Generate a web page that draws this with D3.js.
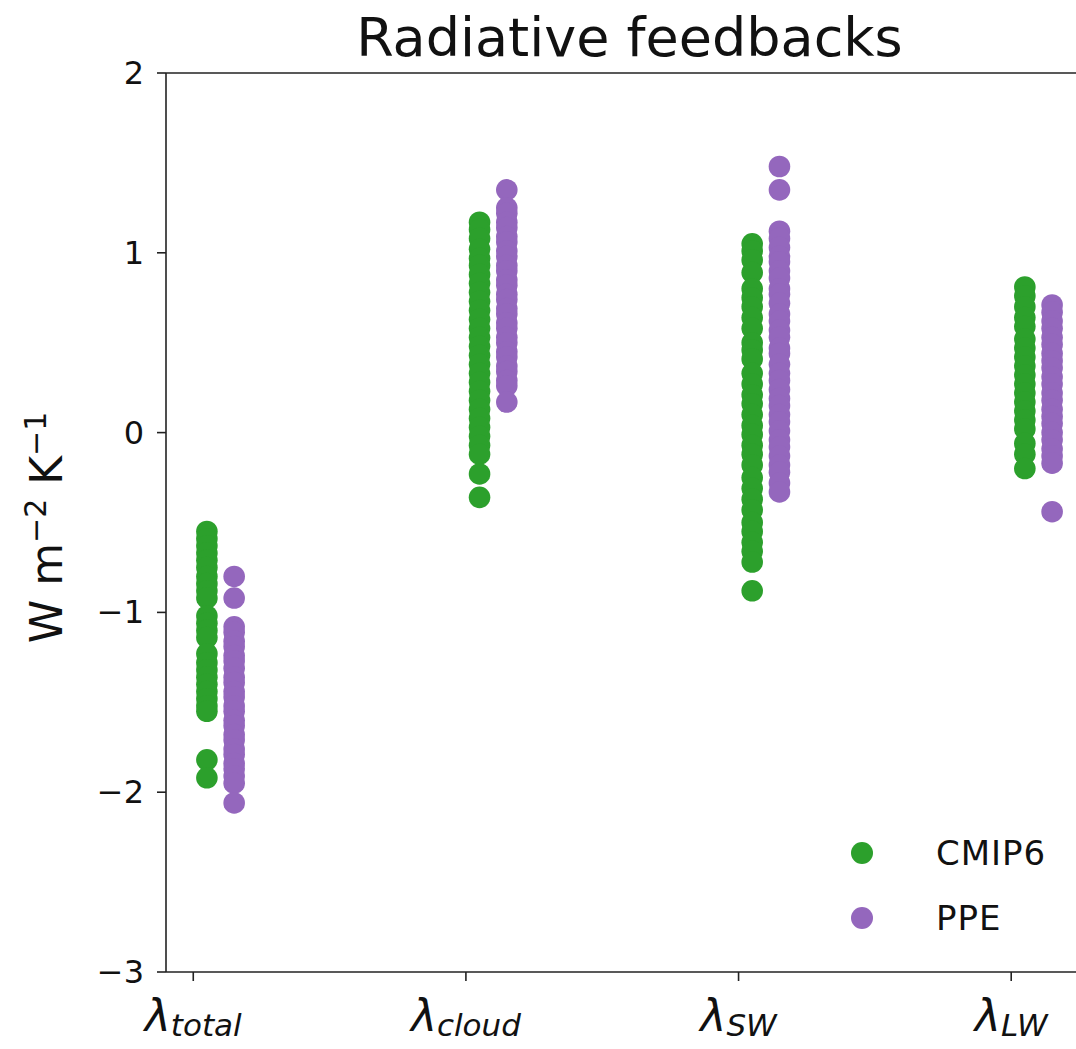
<!DOCTYPE html>
<html><head><meta charset="utf-8">
<script src="https://cdn.jsdelivr.net/npm/d3@7"></script>
<style>
html,body{margin:0;padding:0;background:#fff;}
text{font-family:"DejaVu Sans",sans-serif;fill:#111;}
</style></head>
<body>
<svg id="c" width="1076" height="1049"></svg>
<script>
const categories = ["total", "cloud", "SW", "LW"];
const seriesNames = ["CMIP6", "PPE"];
const yTicks = [2, 1, 0, -1, -2, -3];

const cmip6Total = [-0.55,-0.59,-0.63,-0.67,-0.71,-0.75,-0.80,-0.84,-0.88,-0.92,-1.02,-1.06,-1.10,-1.14,-1.23,-1.28,-1.32,-1.36,-1.40,-1.44,-1.48,-1.52,-1.55,-1.82,-1.92];
const ppeTotal = [-0.80,-0.92,-1.08,-1.11,-1.16,-1.19,-1.24,-1.27,-1.31,-1.36,-1.39,-1.44,-1.47,-1.52,-1.55,-1.60,-1.63,-1.68,-1.71,-1.76,-1.79,-1.84,-1.87,-1.91,-1.95,-2.06];
const cmip6Cloud = [1.17,1.13,1.08,1.02,0.97,0.93,0.88,0.83,0.78,0.73,0.68,0.63,0.58,0.53,0.48,0.43,0.38,0.33,0.28,0.23,0.18,0.13,0.08,0.03,-0.02,-0.07,-0.12,-0.23,-0.36];
const ppeCloud = [1.35,1.25,1.22,1.17,1.14,1.09,1.06,1.01,0.98,0.93,0.90,0.85,0.82,0.77,0.74,0.69,0.66,0.61,0.58,0.53,0.50,0.45,0.42,0.37,0.34,0.29,0.26,0.17];
const cmip6SW = [1.05,1.01,0.96,0.89,0.80,0.75,0.70,0.64,0.58,0.50,0.46,0.41,0.33,0.27,0.21,0.16,0.10,0.04,-0.01,-0.07,-0.12,-0.18,-0.25,-0.31,-0.37,-0.43,-0.50,-0.55,-0.61,-0.66,-0.72,-0.88];
const ppeSW = [1.48,1.35,1.12,1.08,1.03,0.98,0.95,0.90,0.86,0.80,0.77,0.72,0.66,0.62,0.57,0.53,0.47,0.44,0.38,0.33,0.29,0.24,0.19,0.15,0.10,0.06,0.01,-0.04,-0.08,-0.13,-0.18,-0.22,-0.28,-0.33];
const cmip6LW = [0.81,0.76,0.70,0.64,0.59,0.52,0.47,0.42,0.37,0.32,0.27,0.22,0.17,0.12,0.07,0.02,-0.06,-0.12,-0.20];
const ppeLW = [0.71,0.67,0.62,0.58,0.53,0.49,0.44,0.40,0.36,0.31,0.27,0.22,0.18,0.13,0.09,0.05,0.00,-0.04,-0.09,-0.13,-0.17,-0.44];

const cmip6 = [cmip6Total, cmip6Cloud, cmip6SW, cmip6LW];
const ppe = [ppeTotal, ppeCloud, ppeSW, ppeLW];

const colors = {CMIP6: "#2ca02c", PPE: "#9467bd"};
const svg = d3.select("#c");
const L = 166, R = 1093, T = 73, B = 972;
const x = d3.scaleLinear().domain([-0.1, 3.3]).range([L, R]);
const y = d3.scaleLinear().domain([-3, 2]).range([B, T]);
const r = 10.8;

// title
svg.append("text").attr("x", (L + R) / 2).attr("y", 56).attr("text-anchor", "middle")
  .style("font-size", "54px").text("Radiative feedbacks");

// points
const groups = [{name: "CMIP6", data: cmip6, off: 0.05}, {name: "PPE", data: ppe, off: 0.15}];
groups.forEach(g => {
  const pts = [];
  g.data.forEach((vals, i) => vals.forEach(v => pts.push({i, v})));
  svg.append("g").selectAll("circle").data(pts).join("circle")
    .attr("cx", d => x(d.i + g.off)).attr("cy", d => y(d.v)).attr("r", r)
    .attr("fill", colors[g.name]);
});

// spines (right spine lies outside the visible area)
const spine = svg.append("g").attr("stroke", "#222").attr("stroke-width", 1.6).attr("fill", "none");
spine.append("line").attr("x1", L).attr("x2", L).attr("y1", T).attr("y2", B);
spine.append("line").attr("x1", L).attr("x2", R).attr("y1", B).attr("y2", B);
spine.append("line").attr("x1", L).attr("x2", R).attr("y1", T).attr("y2", T);

// y axis ticks
yTicks.forEach(t => {
  svg.append("line").attr("x1", L - 9).attr("x2", L).attr("y1", y(t)).attr("y2", y(t))
    .attr("stroke", "#222").attr("stroke-width", 1.6);
  svg.append("text").attr("x", L - 22).attr("y", y(t)).attr("text-anchor", "end")
    .attr("dominant-baseline", "central").style("font-size", "32px")
    .text(t < 0 ? "\u2212" + Math.abs(t) : String(t));
});

// x axis ticks
categories.forEach((c, i) => {
  svg.append("line").attr("x1", x(i)).attr("x2", x(i)).attr("y1", B).attr("y2", B + 9)
    .attr("stroke", "#222").attr("stroke-width", 1.6);
  const t = svg.append("text").attr("x", x(i)).attr("y", 1031).attr("text-anchor", "middle");
  t.append("tspan").style("font-size", "44px").style("font-style", "italic").text("\u03bb");
  t.append("tspan").attr("dy", 5).style("font-size", "31px").style("font-style", "italic").text(c);
});

// y label
const yl = svg.append("text").attr("transform", "translate(62," + ((T + B) / 2 + 5) + ") rotate(-90)")
  .attr("text-anchor", "middle").style("font-size", "44px");
yl.append("tspan").text("W m");
yl.append("tspan").attr("dy", -16).style("font-size", "30px").text("\u22122");
yl.append("tspan").attr("dy", 16).text(" K");
yl.append("tspan").attr("dy", -16).style("font-size", "30px").text("\u22121");

// legend
seriesNames.forEach((s, k) => {
  const cy = 853 + k * 65;
  svg.append("circle").attr("cx", 862).attr("cy", cy).attr("r", 11).attr("fill", colors[s]);
  svg.append("text").attr("x", 936).attr("y", cy).attr("dominant-baseline", "central")
    .style("font-size", "34px").style("letter-spacing", "1px").text(s);
});
</script>
</body></html>
